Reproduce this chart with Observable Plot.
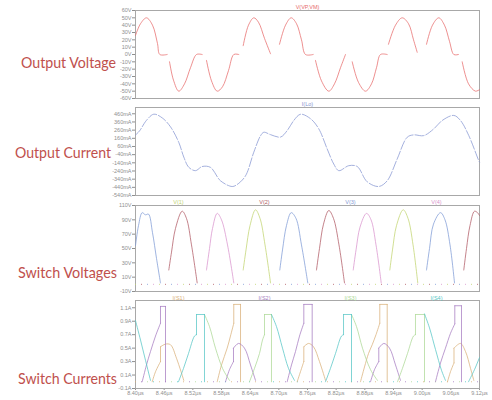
<!DOCTYPE html>
<html><head><meta charset="utf-8">
<script src="https://cdn.jsdelivr.net/npm/d3@7"></script>
<script src="https://cdn.jsdelivr.net/npm/@observablehq/plot@0.6"></script>
<style>
body{margin:0;background:#fff;}
#wrap{position:relative;width:492px;height:400px;overflow:hidden;}
.panel{position:absolute;left:0;}
.panel svg{overflow:visible;}
.lbl{position:absolute;font-family:Lato,"Open Sans",sans-serif;font-size:15px;color:#c0504d;white-space:nowrap;transform-origin:0 50%;line-height:1;}
</style></head><body><div id="wrap"></div>
<script>
// ---------- tick labels ----------
const xTicks = [8.40, 8.46, 8.52, 8.58, 8.64, 8.70, 8.76, 8.82, 8.88, 8.94, 9.00, 9.06, 9.12];
const vTicks = [60, 50, 40, 30, 20, 10, 0, -10, -20, -30, -40, -50, -60];
const iTicks = [460, 360, 260, 160, 60, -40, -140, -240, -340, -440, -540];
const swVTicks = [110, 90, 70, 50, 30, 10, -10];
const swITicks = [1.1, 0.9, 0.7, 0.5, 0.3, 0.1, -0.1];
const panelLabels = ["Output Voltage", "Output Current", "Switch Voltages", "Switch Currents"];
const panelTitles = ["V(VP,VM)", "I(Lo)"];
const swVNames = ["V(1)", "V(2)", "V(3)", "V(4)"];
const swINames = ["I(S1)", "I(S2)", "I(S3)", "I(S4)"];

// ---------- Output voltage V(VP,VM) : segments of [time µs, volts] ----------
const outVoltage = [
  [[8.400,26],[8.4105,42],[8.423,50],[8.4356,40],[8.446,15],[8.4509,0],[8.4663,0]],
  [[8.4712,-10],[8.4795,-35],[8.4906,-50],[8.5026,-40],[8.5151,-18],[8.5277,0],[8.5396,0]],
  [[8.5486,-8],[8.5591,-36],[8.5710,-50],[8.5821,-44],[8.5946,-22],[8.6057,0],[8.6162,0]],
  [[8.6254,12],[8.6365,40],[8.6476,50],[8.6574,44],[8.6700,22],[8.6826,1]],
  [[8.7014,14],[8.7140,40],[8.7259,50],[8.7370,42],[8.7474,20],[8.7558,0],[8.7719,0]],
  [[8.7767,-8],[8.7893,-36],[8.8046,-50],[8.8165,-40],[8.8291,-18],[8.8395,0]],
  [[8.8536,-10],[8.8667,-38],[8.8814,-50],[8.8940,-40],[8.9044,-18],[8.9128,0],[8.9268,0]],
  [[8.9295,14],[8.9442,40],[8.9582,50],[8.9714,42],[8.9819,20],[8.9896,3]],
  [[9.0091,14],[9.0216,40],[9.0348,50],[9.0467,40],[9.0572,18],[9.0662,0],[9.0760,0]],
  [[9.0838,-10],[9.0970,-40],[9.1116,-50],[9.1200,-48]]
];

// ---------- Output current I(Lo) : [time µs, mA] ----------
const outCurrent = [
  [8.400,200],[8.4084,250],[8.4230,380],[8.4383,455],[8.4559,410],[8.4733,300],[8.4906,110],
  [8.5011,-70],[8.5116,-195],[8.5256,-236],[8.5396,-185],[8.5570,-196],[8.5779,-360],[8.6024,-430],
  [8.6129,-405],[8.6302,-300],[8.6476,-10],[8.6616,190],[8.6685,234],[8.6826,205],[8.7035,175],
  [8.7175,255],[8.7313,378],[8.7453,455],[8.7663,400],[8.7837,275],[8.8012,30],[8.8150,-155],
  [8.8255,-236],[8.8464,-175],[8.8640,-185],[8.8849,-372],[8.9092,-430],[8.9268,-360],[8.9477,-93],
  [8.9687,173],[8.9825,202],[9.0034,193],[9.0244,276],[9.0419,378],[9.0662,440],[9.0802,378],
  [9.0976,193],[9.1185,-114],[9.1200,-130]
];

// ---------- Switch voltages : segments of [time µs, volts] ----------
const swV1 = [
  [[8.6254,20],[8.6313,48],[8.6397,82],[8.6512,104],[8.6606,92],[8.6711,55],[8.6826,2]],
  [[8.9323,20],[8.9379,48],[8.9463,82],[8.9603,104],[8.9704,92],[8.9809,55],[8.9908,2]]
];
const swV2 = [
  [[8.4697,20],[8.4754,45],[8.4837,78],[8.4977,102],[8.5067,92],[8.5172,55],[8.5291,2]],
  [[8.7788,20],[8.7851,50],[8.7935,84],[8.8046,103],[8.8144,92],[8.8259,55],[8.8374,2]],
  [[9.0871,20],[9.0928,50],[9.1001,82],[9.1095,102],[9.1158,100],[9.1200,96]]
];
const swV3 = [
  [[8.400,54],[8.4063,82],[8.4140,100],[8.4209,97],[8.4272,98],[8.4356,72],[8.4440,36],[8.4523,2]],
  [[8.7020,20],[8.7077,48],[8.7160,82],[8.7259,100],[8.7359,92],[8.7474,55],[8.7606,2]],
  [[9.0091,20],[9.0154,50],[9.0237,84],[9.0384,100],[9.0478,90],[9.0583,55],[9.0677,2]]
];
const swV4 = [
  [[8.5486,20],[8.5549,50],[8.5612,78],[8.5710,99],[8.5800,90],[8.5926,55],[8.6057,2]],
  [[8.8557,20],[8.8616,48],[8.8700,80],[8.8835,99],[8.8930,90],[8.9034,55],[8.9143,2]]
];

// ---------- Switch currents : segments of [time µs, amps] ----------
const swI1 = [
  [[8.4350,0],[8.4419,0.15],[8.4523,0.3],[8.4523,0.52],[8.4628,0.56],[8.4733,0.55],[8.4858,0.35],[8.5011,0.02]],
  [[8.5710,0],[8.5800,0.25],[8.5919,0.5],[8.5988,0.68],[8.6057,0.87],[8.6057,1.15],[8.6198,1.15],[8.6198,0]],
  [[8.7384,0],[8.7453,0.15],[8.7523,0.3],[8.7523,0.52],[8.7621,0.57],[8.7726,0.52],[8.7851,0.3],[8.7977,0.02]],
  [[8.8709,0],[8.8793,0.22],[8.8877,0.42],[8.8954,0.55],[8.9034,0.7],[8.9113,0.87],[8.9113,1.15],[8.9268,1.15],[8.9268,0]],
  [[9.0530,0],[9.0593,0.15],[9.0666,0.28],[9.0666,0.5],[9.0802,0.57],[9.0907,0.45],[9.1012,0.2],[9.1081,0.02]]
];
const swI2 = [
  [[8.4140,0],[8.4230,0.25],[8.4314,0.45],[8.4419,0.68],[8.4523,0.87],[8.4523,1.12],[8.4628,1.12],[8.4628,0]],
  [[8.5884,0],[8.5967,0.18],[8.6051,0.3],[8.6051,0.5],[8.6156,0.57],[8.6281,0.5],[8.6407,0.25],[8.6512,0.02]],
  [[8.7175,0],[8.7265,0.25],[8.7349,0.45],[8.7433,0.68],[8.7523,0.87],[8.7523,1.15],[8.7698,1.15],[8.7698,0]],
  [[8.8919,0],[8.9002,0.18],[8.9092,0.3],[8.9092,0.5],[8.9197,0.57],[8.9316,0.5],[8.9442,0.25],[8.9546,0.02]],
  [[9.0279,0],[9.0384,0.28],[9.0488,0.5],[9.0593,0.72],[9.0683,0.86],[9.0683,1.13],[9.0823,1.13],[9.0823,0]]
];
const swI3 = [
  [[8.5444,1.0],[8.5549,0.82],[8.5674,0.5],[8.5821,0.2],[8.5967,0.02]],
  [[8.6386,0],[8.6491,0.2],[8.6595,0.42],[8.6658,0.62],[8.6700,0.7],[8.6700,1.0],[8.6846,1.0],[8.6846,0]],
  [[8.8521,1.0],[8.8626,0.82],[8.8751,0.5],[8.8919,0.18],[8.9065,0.02]],
  [[8.9484,0],[8.9588,0.2],[8.9693,0.42],[8.9819,0.68],[8.9860,0.7],[8.9860,1.0],[9.0049,1.0],[9.0049,0]]
];
const swI4 = [
  [[8.400,0.91],[8.4105,0.62],[8.4209,0.32],[8.4314,0.02]],
  [[8.4900,0],[8.5005,0.2],[8.5109,0.42],[8.5235,0.68],[8.5277,0.7],[8.5277,1.0],[8.5444,1.0],[8.5444,0]],
  [[8.6846,1.0],[8.6951,0.82],[8.7077,0.5],[8.7202,0.2],[8.7328,0.02]],
  [[8.7977,0],[8.8081,0.2],[8.8186,0.42],[8.8312,0.68],[8.8354,0.7],[8.8354,1.0],[8.8521,1.0],[8.8521,0]],
  [[9.0049,1.01],[9.0154,0.8],[9.0279,0.48],[9.0405,0.17],[9.0488,0.02]],
  [[9.0970,0],[9.1095,0.18],[9.1200,0.36]]
];

// ---------- styling ----------
const cVout = "#e76b6b";
const cIout = "#8696d2";
const swVColors = ["#c2d470", "#b05a64", "#7f9bd6", "#d994cd"];
const swIColors = ["#d9b07a", "#a57bc0", "#acd896", "#55c6c6"];
const frameColor = "#a8a8a8";

// Build rows; a step (two samples at the same time) is drawn as its own straight piece,
// and the flat piece after a step until the next step stays straight too.
function rows(segs, name) {
  const out = [];
  let k = 0;
  segs.forEach(seg => {
    let piece = [seg[0]];
    const flush = () => {
      if (piece.length > 1) { piece.forEach(([t, v]) => out.push({t, v, seg: name + k})); k++; }
    };
    for (let i = 1; i < seg.length; i++) {
      const p = seg[i], q = seg[i - 1];
      if (p[0] === q[0]) {
        flush();
        piece = [q, p]; flush();
        piece = [p];
      } else {
        piece.push(p);
      }
    }
    flush();
  });
  return out;
}

function panel({height, marginTop, marginBottom, yDomain, yTicks, yFmt, marks, xAxis}) {
  return Plot.plot({
    width: 492, height, marginLeft: 135, marginRight: 13, marginTop, marginBottom,
    style: {fontSize: "5.5px", fontFamily: "'Liberation Sans', Arial, sans-serif", color: "#8f8f8f", background: "transparent"},
    x: {domain: [8.40, 9.12], ticks: xTicks, tickFormat: d => d.toFixed(2) + "µs", tickSize: 2, tickPadding: 1, label: null, axis: xAxis ? "bottom" : null},
    y: {domain: yDomain, ticks: yTicks, tickFormat: yFmt, tickSize: 3, tickPadding: 1, label: null},
    marks: [Plot.frame({stroke: frameColor}), ...marks]
  });
}

const lineOpts = {x: "t", y: "v", z: "seg", strokeWidth: 0.75, curve: "catmull-rom"};

const p1 = panel({
  height: 100, marginTop: 10, marginBottom: 2, yDomain: [-60, 60], yTicks: vTicks, yFmt: d => d + "V",
  marks: [
    Plot.line(rows(outVoltage, "v"), {...lineOpts, stroke: cVout}),
    Plot.text([panelTitles[0]], {frameAnchor: "top", dy: -5, fill: cVout, fontSize: 5.5})
  ]
});

const p2 = panel({
  height: 99, marginTop: 9, marginBottom: 2, yDomain: [-540, 537], yTicks: iTicks, yFmt: d => d + "mA",
  marks: [
    Plot.line(outCurrent, {x: d => d[0], y: d => d[1], stroke: cIout, strokeWidth: 0.75, strokeDasharray: "9 2", curve: "catmull-rom"}),
    Plot.text([panelTitles[1]], {frameAnchor: "top", dy: -5, fill: cIout, fontSize: 5.5})
  ]
});

const swVSeries = [swV1, swV2, swV3, swV4];
const p3 = panel({
  height: 98, marginTop: 10, marginBottom: 2, yDomain: [-10, 110], yTicks: swVTicks, yFmt: d => d + "V",
  marks: [
    ...swVColors.map((c, i) => Plot.ruleY([0], {stroke: c, strokeWidth: 1, strokeOpacity: 0.8, strokeDasharray: "1 23", strokeDashoffset: -6 * i})),
    ...swVSeries.map((s, i) => Plot.line(rows(s, "s" + i), {...lineOpts, stroke: swVColors[i]})),
    ...swVNames.map((n, i) => Plot.text([n], {x: 8.40 + (i + 0.5) * 0.18, frameAnchor: "top", dy: -5, fill: swVColors[i], fontSize: 5.5}))
  ]
});

const swISeries = [swI1, swI2, swI3, swI4];
const p4 = panel({
  height: 109, marginTop: 9, marginBottom: 12, yDomain: [-0.1, 1.208], yTicks: swITicks, yFmt: d => d.toFixed(1) + "A", xAxis: true,
  marks: [
    ...swIColors.map((c, i) => Plot.ruleY([0], {stroke: c, strokeWidth: 1, strokeOpacity: 0.8, strokeDasharray: "1 23", strokeDashoffset: -6 * i})),
    ...swISeries.map((s, i) => Plot.line(rows(s, "i" + i), {...lineOpts, stroke: swIColors[i]})),
    ...swINames.map((n, i) => Plot.text([n], {x: 8.40 + (i + 0.5) * 0.18, frameAnchor: "top", dy: -4, fill: swIColors[i], fontSize: 5.5}))
  ]
});

const wrap = document.getElementById("wrap");
[[p1, 0], [p2, 98], [p3, 195], [p4, 291]].forEach(([p, top]) => {
  const d = document.createElement("div");
  d.className = "panel";
  d.style.top = top + "px";
  d.appendChild(p);
  wrap.appendChild(d);
});

// left-side section labels: [left x, right x, center y]
const labelBoxes = [[21, 116, 62], [15, 111, 152], [18, 117, 272], [18, 117, 378]];
panelLabels.forEach((txt, i) => {
  const [x0, x1, cy] = labelBoxes[i];
  const s = document.createElement("div");
  s.className = "lbl";
  s.textContent = txt;
  wrap.appendChild(s);
  const r = s.getBoundingClientRect();
  s.style.left = x0 + "px";
  s.style.top = (cy - r.height / 2) + "px";
  s.style.transform = `scaleX(${(x1 - x0) / r.width})`;
});
</script></body></html>
